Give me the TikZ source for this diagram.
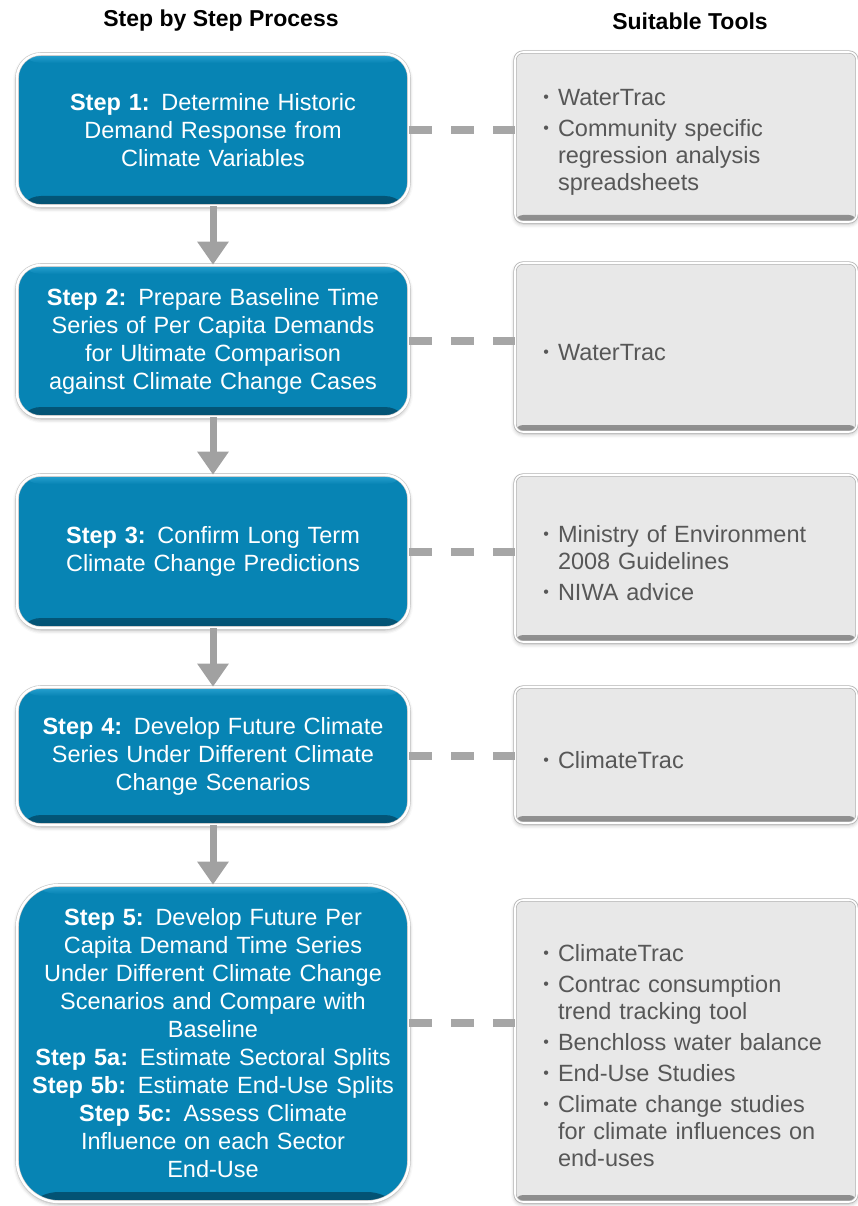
\documentclass[tikz,border=0pt]{standalone}
\usepackage{fontspec}
\setmainfont{Liberation Sans}
\usetikzlibrary{arrows.meta,shadows.blur}
\definecolor{StepBlue}{HTML}{0784B4}
\definecolor{StepDark}{HTML}{035273}
\definecolor{StepLight}{HTML}{2AA3D2}
\definecolor{ToolFill}{HTML}{E8E8E8}
\definecolor{ToolEdge}{HTML}{B5B5B5}
\definecolor{ToolText}{HTML}{575757}
\definecolor{Link}{HTML}{A6A6A6}
\newenvironment{toollist}{\begin{list}{\raisebox{3pt}{\fontsize{16}{16}\selectfont\textbullet}}{%
  \setlength\leftmargin{22pt}\setlength\labelwidth{7pt}\setlength\labelsep{9pt}%
  \setlength\itemsep{4pt}\setlength\parsep{0pt}\setlength\topsep{0pt}\setlength\partopsep{0pt}}}%
 {\end{list}}

\begin{document}
\begin{tikzpicture}[x=1pt,y=-1pt,
  headtxt/.style={font=\fontsize{23}{26}\selectfont\bfseries},
  stepbox/.style={rounded corners=24pt,draw=black!22,double=white,double distance=2.4pt,line width=.6pt,
   fill=StepBlue,text=white,minimum width=392pt,text width=372pt,inner xsep=10pt,inner ysep=0pt,align=center,
   font=\fontsize{23.5}{28}\selectfont,
   blur shadow={shadow xshift=0pt,shadow yshift=-2pt,shadow blur radius=4pt,shadow opacity=35},
   path picture={
    \shade[top color=StepBlue,bottom color=StepDark] ([yshift=10pt]path picture bounding box.south west) rectangle (path picture bounding box.south east);
    \shade[top color=StepLight,bottom color=StepBlue] (path picture bounding box.north west) rectangle ([yshift=-9pt]path picture bounding box.north east);}},
  toolbox/.style={rounded corners=8pt,draw=ToolEdge,double=white,double distance=1.6pt,line width=.8pt,
   fill=ToolFill,text=ToolText,minimum width=342pt,text width=300pt,inner xsep=21pt,inner ysep=0pt,align=left,
   font=\fontsize{23.5}{27}\selectfont,
   blur shadow={shadow xshift=0pt,shadow yshift=-2pt,shadow blur radius=4pt,shadow opacity=30},
   path picture={
    \shade[top color=ToolFill,bottom color=black!45] ([yshift=7pt]path picture bounding box.south west) rectangle (path picture bounding box.south east);}},
  flowarrow/.style={draw=black!37,line width=7pt,-{Triangle[width=30pt,length=23pt]}},
  linkline/.style={draw=Link,line width=8pt,dash pattern=on 23pt off 19pt}]
  \useasboundingbox (0,0) rectangle (858,1206);

  \node[headtxt] (headstep) at (221,21) {Step by Step Process};
  \node[headtxt] (headtool) at (690,21) {Suitable Tools};

  % process steps
  \node[stepbox,minimum height=152pt] (s1) at (213,130)
   {\textbf{Step 1:} Determine Historic\\Demand Response from\\Climate Variables};
  \node[stepbox,minimum height=152pt] (s2) at (213,341)
   {\textbf{Step 2:} Prepare Baseline Time\\Series of Per Capita Demands\\for Ultimate Comparison\\against Climate Change Cases};
  \node[stepbox,minimum height=153pt] (s3) at (213,551.5)
   {\textbf{Step 3:} Confirm Long Term\\Climate Change Predictions};
  \node[stepbox,minimum height=138pt] (s4) at (213,756)
   {\textbf{Step 4:} Develop Future Climate\\Series Under Different Climate\\Change Scenarios};
  \node[stepbox,rounded corners=42pt,minimum height=317pt] (s5) at (213,1043.5)
   {\textbf{Step 5:} Develop Future Per\\Capita Demand Time Series\\Under Different Climate Change\\Scenarios and Compare with\\Baseline\\
    \textbf{Step 5a:} Estimate Sectoral Splits\\\textbf{Step 5b:} Estimate End-Use Splits\\\textbf{Step 5c:} Assess Climate\\Influence on each Sector\\End-Use};

  % tools
  \node[toolbox,minimum height=170pt] (t1) at (686,137)
   {\begin{toollist}\item WaterTrac\item Community specific\newline regression analysis\newline spreadsheets\end{toollist}};
  \node[toolbox,minimum height=169pt] (t2) at (686,347.5)
   {\begin{toollist}\item WaterTrac\end{toollist}};
  \node[toolbox,minimum height=167pt] (t3) at (686,558.5)
   {\begin{toollist}\item Ministry of Environment\newline 2008 Guidelines\item NIWA advice\end{toollist}};
  \node[toolbox,minimum height=136pt] (t4) at (686,755)
   {\begin{toollist}\item ClimateTrac\end{toollist}};
  \node[toolbox,minimum height=302pt] (t5) at (686,1051)
   {\begin{toollist}\item ClimateTrac\item Contrac consumption\newline trend tracking tool\item Benchloss water balance
    \item End-Use Studies\item Climate change studies\newline for climate influences on\newline end-uses\end{toollist}};

  % arrows and links
  \foreach \a/\b in {s1/s2,s2/s3,s3/s4,s4/s5}
   \draw[flowarrow] (\a.south) -- (\b.north);
  \foreach \n in {1,...,4}
   \draw[linkline] (s\n.east) -- (s\n.east -| t\n.west);
  \coordinate (c5) at ([yshift=21pt]s5.east);
  \draw[linkline] (c5) -- (c5 -| t5.west);
\end{tikzpicture}
\end{document}
